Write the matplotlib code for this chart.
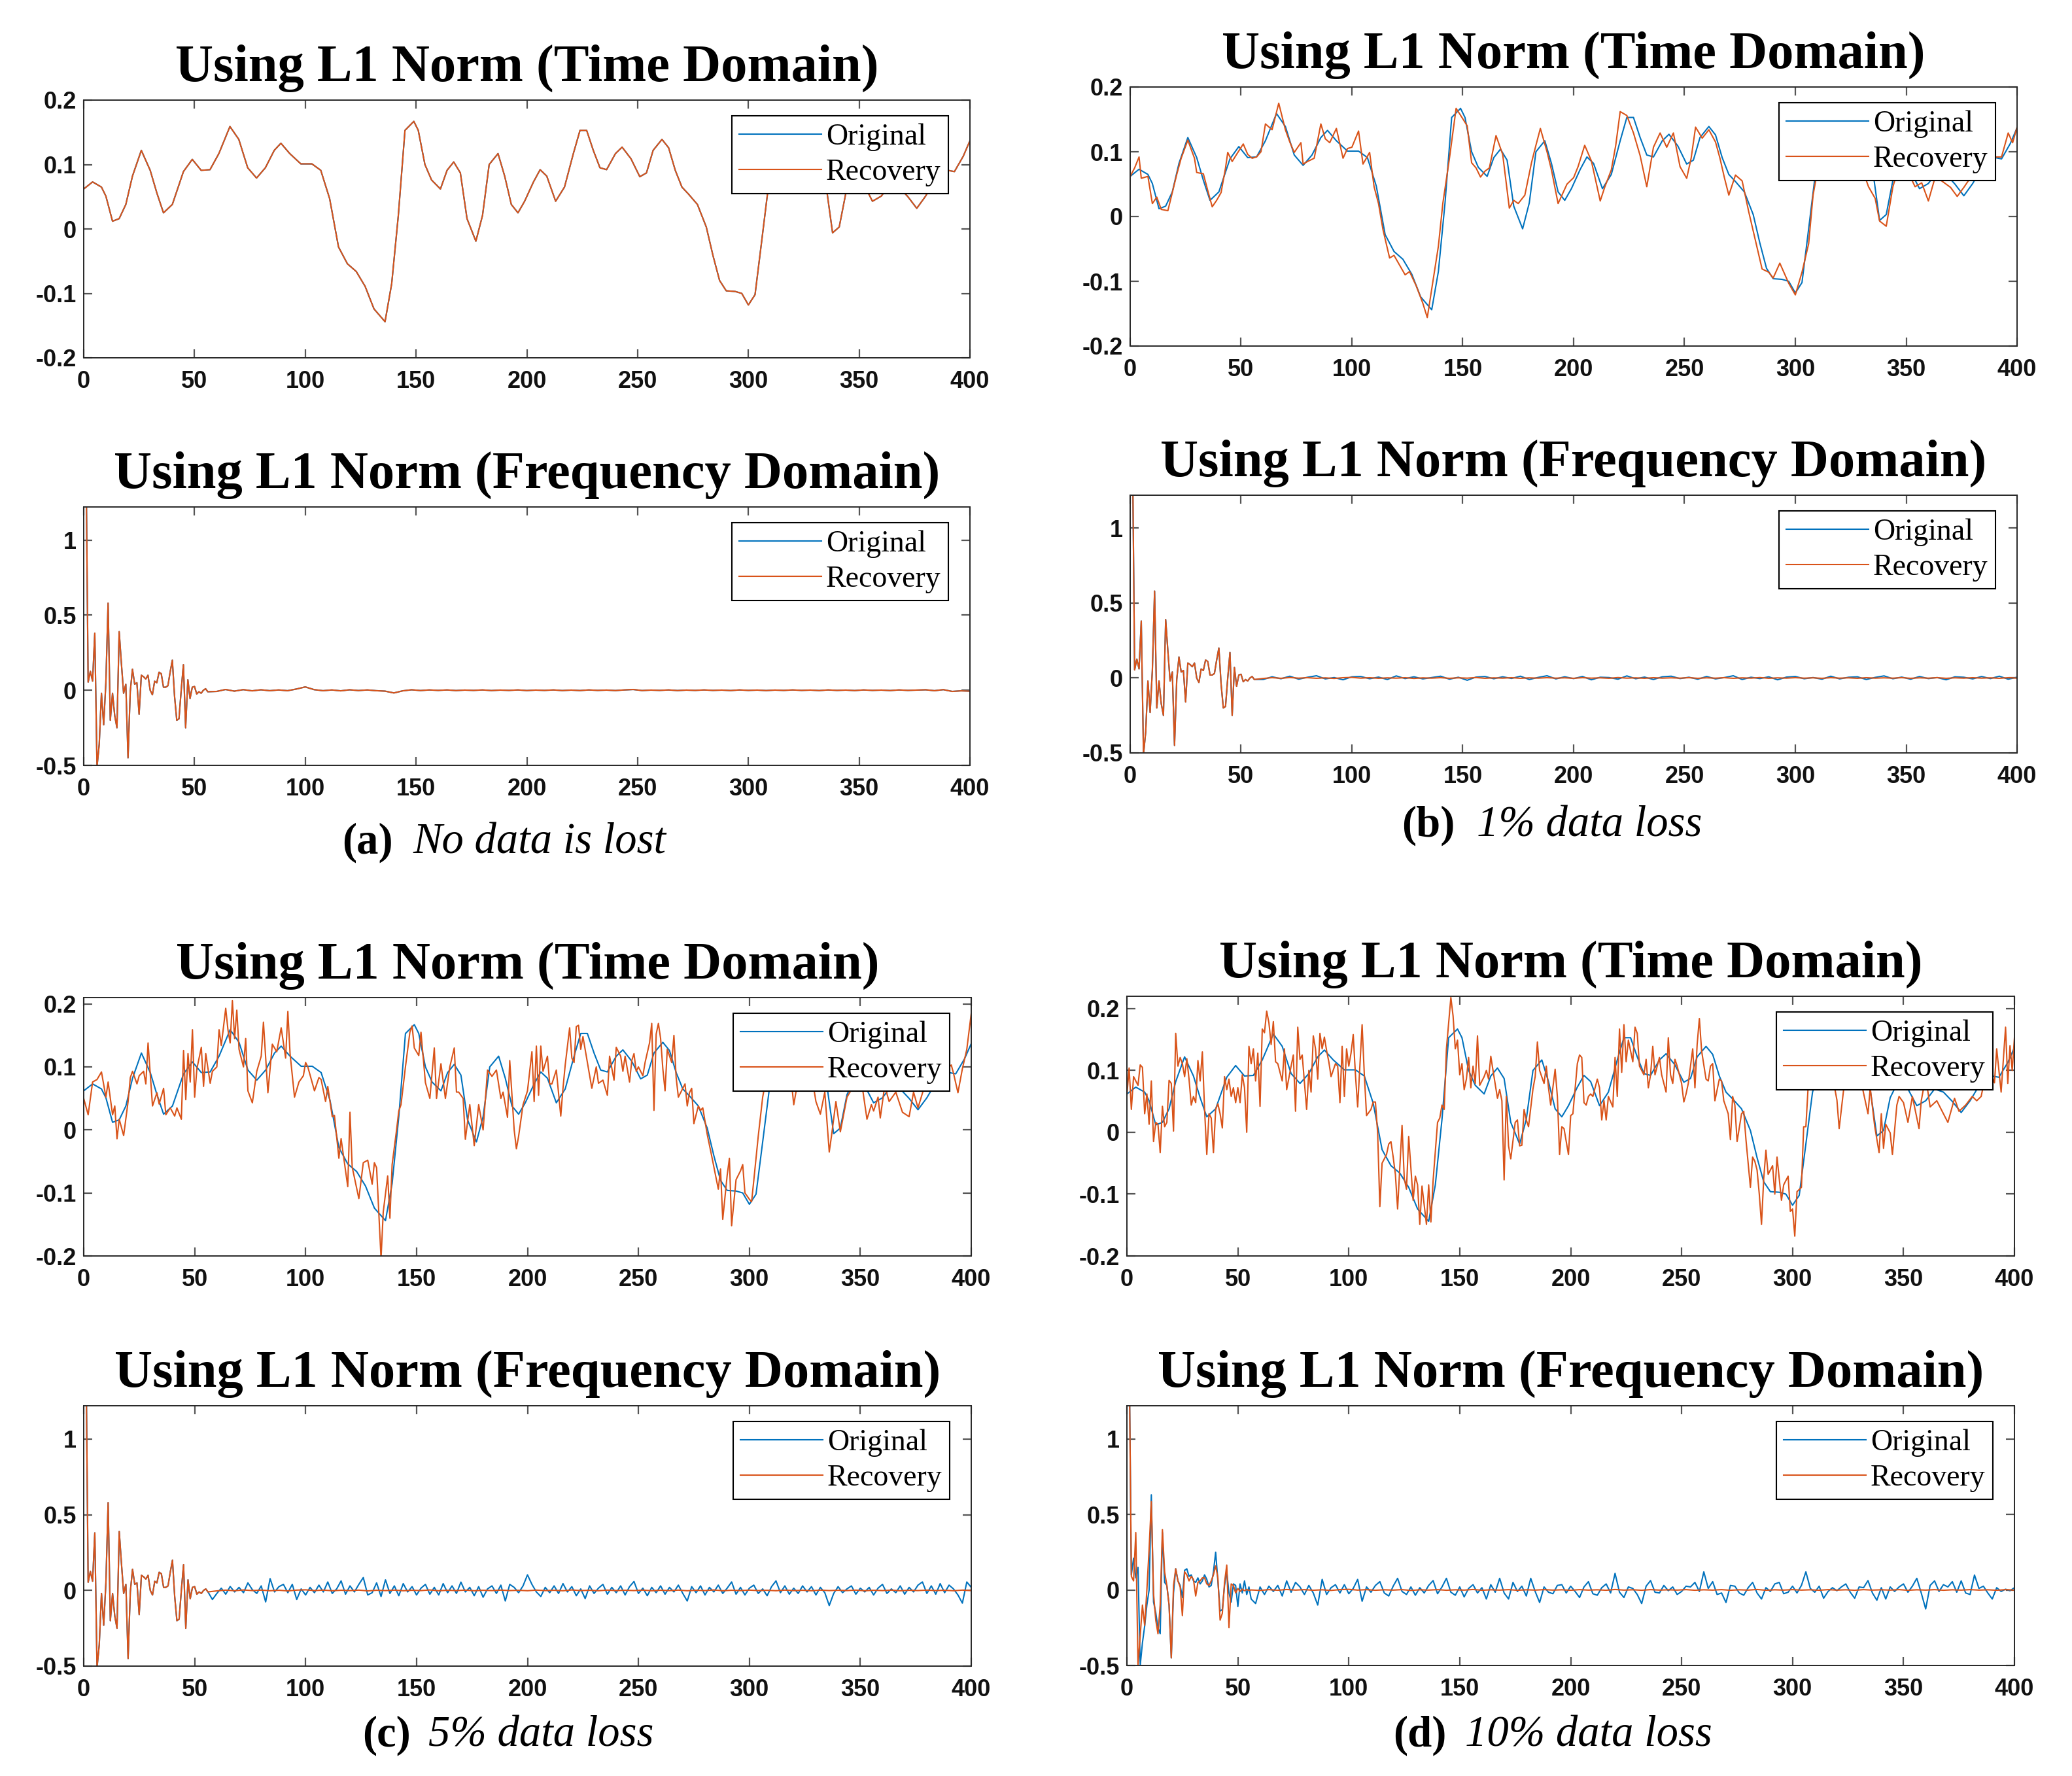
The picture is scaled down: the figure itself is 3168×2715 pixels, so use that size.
import numpy as np
import matplotlib.pyplot as plt

plt.rcParams['font.family'] = 'Liberation Sans'
plt.rcParams['font.weight'] = 'bold'
plt.rcParams['axes.unicode_minus'] = False

BLUE = '#0072BD'
ORANGE = '#D95319'

# time domain, original signal (x, value*1000)
t_orig = [(0, 62), (4, 73), (8, 65), (10, 51), (13, 12), (16, 16), (19, 38), (22, 82), (26, 122), (30, 91),
          (33, 56), (36, 25), (40, 38), (45, 89), (49, 108), (53, 91), (57, 92), (61, 117), (66, 159), (70, 139),
          (74, 95), (78, 79), (82, 95), (86, 122), (89, 133), (93, 117), (98, 101), (103, 101), (107, 91), (111, 47),
          (115, -28), (119, -54), (123, -66), (127, -89), (131, -124), (136, -144), (139, -85), (142, 21), (145, 153),
          (149, 167), (151, 153), (154, 100), (157, 76), (161, 62), (164, 91), (167, 104), (170, 87), (173, 16),
          (177, -19), (180, 21), (183, 100), (187, 117), (190, 82), (193, 38), (196, 25), (199, 43), (203, 73),
          (206, 92), (209, 82), (213, 43), (217, 65), (221, 117), (224, 153), (227, 153), (230, 122), (233, 95),
          (236, 92), (240, 117), (243, 127), (247, 109), (251, 81), (254, 87), (257, 122), (261, 139), (264, 126),
          (267, 91), (270, 65), (273, 54), (277, 38), (281, 3), (284, -41), (287, -80), (290, -96), (294, -97),
          (297, -100), (300, -118), (303, -102), (306, -19), (309, 65), (313, 110), (318, 130), (323, 120),
          (328, 90), (332, 80), (335, 69), (338, -6), (341, 3), (344, 56), (348, 85), (352, 70), (356, 43),
          (360, 51), (364, 70), (368, 65), (372, 50), (376, 32), (380, 51), (384, 75), (387, 90), (390, 91),
          (393, 89), (397, 113), (400, 137)]

# time domain recoveries
rec_b = [(0, 62), (2, 75), (4, 92), (5, 59), (8, 62), (10, 20), (12, 30), (14, 11), (17, 9), (19, 37), (21, 65),
         (23, 90), (26, 118), (29, 90), (30, 68), (33, 66), (35, 40), (37, 15), (39, 25), (41, 37), (43, 75),
         (44, 99), (46, 85), (48, 96), (51, 112), (53, 96), (55, 90), (57, 92), (59, 100), (61, 143), (64, 134),
         (67, 175), (70, 134), (72, 115), (74, 99), (77, 114), (78, 81), (80, 85), (83, 90), (86, 143), (88, 120),
         (90, 114), (93, 136), (96, 90), (98, 105), (100, 107), (103, 132), (105, 81), (108, 99), (110, 46),
         (112, 20), (114, -20), (117, -64), (119, -60), (121, -72), (124, -90), (126, -85), (129, -107),
         (132, -134), (134, -156), (136, -112), (139, -46), (141, 20), (144, 90), (147, 167), (150, 151),
         (152, 140), (154, 83), (156, 75), (158, 61), (160, 70), (162, 75), (165, 125), (168, 96), (171, 13),
         (173, 25), (175, 20), (178, 33), (181, 83), (183, 110), (185, 136), (188, 100), (190, 72), (193, 20),
         (195, 35), (197, 50), (200, 60), (202, 77), (205, 110), (208, 86), (210, 55), (212, 24), (214, 45),
         (217, 72), (219, 110), (221, 162), (224, 156), (227, 129), (230, 94), (233, 46), (236, 107), (239, 129),
         (242, 107), (245, 129), (248, 77), (251, 59), (253, 90), (255, 138), (258, 121), (261, 134), (264, 115),
         (266, 90), (268, 60), (270, 33), (273, 64), (276, 55), (279, 7), (282, -37), (285, -81), (288, -86),
         (290, -95), (293, -72), (297, -103), (300, -121), (303, -86), (306, -42), (308, 33), (311, 90),
         (315, 125), (320, 125), (325, 110), (330, 75), (333, 46), (336, 28), (338, -7), (341, -15), (344, 46),
         (347, 80), (350, 75), (354, 46), (357, 52), (360, 24), (363, 60), (366, 55), (370, 45), (373, 31),
         (376, 45), (378, 55), (382, 75), (386, 85), (390, 92), (393, 92), (396, 129), (398, 114), (400, 138)]

rec_c = [(0, 50), (2, 24), (4, 76), (6, 80), (8, 92), (10, 52), (11, 76), (13, 24), (14, 38), (15, -14), (16, 17),
         (18, -9), (20, 45), (21, 83), (22, 93), (24, 73), (25, 86), (27, 93), (28, 73), (29, 138), (31, 38),
         (33, 59), (34, 41), (36, 66), (37, 24), (39, 35), (41, 22), (42, 35), (44, 17), (45, 126), (46, 48),
         (47, 121), (48, 76), (49, 159), (50, 52), (51, 97), (53, 131), (54, 69), (55, 121), (57, 74), (58, 93),
         (60, 100), (61, 159), (62, 134), (64, 193), (65, 159), (66, 138), (67, 205), (68, 145), (69, 190),
         (70, 128), (72, 100), (73, 145), (74, 62), (76, 43), (78, 93), (80, 117), (81, 171), (83, 59), (85, 136),
         (87, 124), (89, 162), (91, 114), (92, 188), (93, 121), (95, 52), (97, 76), (99, 86), (100, 107),
         (101, 100), (104, 62), (106, 83), (107, 80), (109, 45), (110, 69), (112, 21), (113, 23), (115, -45),
         (116, -14), (119, -90), (120, 28), (121, -59), (124, -109), (126, -52), (128, -48), (130, -86),
         (131, -52), (132, -60), (134, -204), (135, -130), (137, -73), (138, -140), (139, -55), (141, 0),
         (142, 30), (143, 40), (145, 100), (147, 155), (148, 165), (149, 130), (151, 118), (152, 155), (154, 75),
         (156, 50), (158, 130), (159, 50), (161, 105), (163, 50), (165, 100), (167, 130), (168, 60), (169, 60),
         (171, 50), (172, -15), (174, 40), (176, -25), (178, 40), (180, 0), (182, 95), (184, 85), (186, 95),
         (188, 50), (189, 60), (191, 20), (192, 110), (194, 0), (195, -30), (196, -10), (198, 40), (200, 62),
         (202, 124), (203, 45), (204, 133), (205, 55), (206, 133), (207, 93), (209, 117), (210, 73), (211, 73),
         (213, 95), (215, 22), (216, 66), (217, 103), (219, 162), (220, 114), (221, 107), (222, 164), (223, 166),
         (224, 128), (225, 148), (227, 107), (229, 66), (231, 100), (232, 74), (234, 79), (236, 55), (237, 117),
         (239, 79), (240, 131), (242, 117), (243, 93), (244, 117), (246, 76), (247, 110), (248, 121), (249, 93),
         (250, 100), (252, 86), (253, 107), (255, 138), (256, 169), (257, 31), (258, 152), (259, 169), (260, 145),
         (261, 97), (262, 62), (263, 128), (265, 107), (266, 150), (267, 83), (268, 52), (271, 73), (272, 38),
         (273, 59), (274, 66), (275, 10), (277, 38), (278, 31), (279, 35), (281, -7), (283, -41), (286, -94),
         (287, -62), (288, -142), (290, -72), (291, -45), (292, -152), (294, -79), (296, -65), (297, -55),
         (298, -100), (300, -110), (301, -114), (302, -80), (304, -10), (306, 52), (308, 90), (311, 120),
         (315, 140), (318, 110), (320, 40), (323, 100), (327, 110), (330, 45), (332, 25), (334, 60), (336, -35),
         (337, -10), (339, 45), (341, -3), (344, 52), (347, 70), (350, 90), (353, 17), (355, 40), (356, 30),
         (358, 52), (359, 19), (361, 70), (363, 45), (366, 60), (369, 28), (372, 21), (374, 60), (376, 35),
         (379, 70), (383, 80), (387, 90), (391, 103), (392, 90), (394, 59), (396, 97), (398, 128), (400, 185)]

rec_d = [(0, 60), (1, 104), (2, 37), (3, 90), (5, 76), (6, 109), (7, 105), (8, 30), (9, 62), (10, 13), (11, 83),
         (12, -15), (13, 16), (14, 13), (15, -33), (16, 42), (17, 9), (18, 16), (19, 84), (20, 79), (21, 2),
         (22, 160), (23, 107), (24, 121), (25, 111), (26, 90), (27, 119), (28, 86), (29, 44), (30, 58), (31, 48),
         (32, 116), (33, 83), (34, 130), (35, 37), (36, -36), (37, 30), (38, 23), (39, -33), (40, 37), (41, 46),
         (42, 30), (43, 7), (44, 90), (45, 69), (46, 86), (47, 58), (48, 72), (49, 48), (50, 72), (51, 48),
         (52, 93), (53, 72), (54, 0), (55, 139), (56, 111), (57, 135), (58, 83), (59, 128), (60, 42), (61, 167),
         (62, 161), (63, 196), (64, 177), (65, 142), (66, 179), (67, 114), (68, 111), (70, 83), (71, 135),
         (72, 69), (74, 107), (75, 125), (76, 34), (77, 170), (78, 118), (79, 125), (81, 37), (82, 100), (83, 65),
         (84, 156), (85, 135), (86, 86), (87, 160), (88, 135), (89, 154), (90, 132), (91, 114), (92, 90),
         (94, 111), (95, 107), (96, 48), (97, 139), (98, 58), (99, 135), (100, 107), (101, 128), (102, 158),
         (103, 93), (104, 41), (105, 107), (106, 174), (107, 93), (108, 27), (110, 37), (111, 49), (112, 49),
         (113, -1), (114, -120), (115, -50), (117, -36), (118, -19), (119, -15), (120, -40), (121, -68),
         (122, -124), (124, 11), (125, -75), (126, -92), (127, -7), (129, -110), (130, -71), (131, -85),
         (132, -149), (133, -87), (135, -149), (136, -85), (137, -145), (138, -78), (140, 16), (141, 23),
         (142, 44), (143, 37), (144, 135), (145, 177), (146, 218), (147, 188), (148, 135), (149, 149), (150, 93),
         (151, 111), (152, 69), (153, 86), (154, 121), (155, 72), (156, 107), (157, 79), (158, 156), (159, 76),
         (161, 90), (162, 100), (163, 86), (164, 123), (165, 100), (167, 55), (168, 69), (169, 51), (170, -77),
         (171, 58), (172, -22), (173, -43), (175, 16), (176, 20), (177, -22), (178, -21), (179, 37), (180, 20),
         (181, 9), (183, 70), (184, 90), (185, 146), (186, 100), (188, 79), (189, 107), (190, 72), (191, 44),
         (193, 102), (194, 58), (195, -36), (196, 9), (197, 6), (199, -36), (200, 27), (201, 30), (203, 111),
         (204, 125), (205, 121), (206, 48), (207, 44), (208, 58), (209, 62), (210, 58), (212, 86), (213, 72),
         (214, 20), (215, 51), (216, 20), (217, 58), (219, 41), (220, 121), (221, 58), (222, 167), (223, 97),
         (224, 174), (225, 114), (226, 149), (228, 114), (229, 170), (230, 160), (231, 107), (233, 93),
         (234, 118), (235, 72), (236, 93), (237, 139), (238, 93), (240, 121), (241, 93), (243, 65), (244, 153),
         (245, 93), (246, 79), (247, 118), (248, 107), (250, 79), (251, 49), (252, 62), (253, 79), (255, 135),
         (256, 72), (257, 142), (258, 184), (259, 132), (261, 86), (262, 83), (263, 107), (264, 111), (265, 51),
         (267, 86), (268, 83), (269, 51), (271, 30), (272, -12), (273, 58), (274, 44), (275, -15), (277, 30),
         (278, 34), (279, -12), (281, -89), (282, -40), (283, -47), (284, -61), (285, -100), (286, -149),
         (287, -75), (288, -29), (289, -68), (291, -54), (292, -100), (293, -40), (294, -75), (295, -110),
         (296, -85), (298, -71), (299, -128), (300, -124), (301, -168), (302, -96), (304, -89), (305, 9),
         (306, 9), (307, 72), (308, 100), (311, 130), (314, 150), (317, 110), (320, 52), (321, 6), (324, 100),
         (328, 120), (331, 80), (334, 30), (335, 72), (337, 10), (339, -33), (340, 30), (341, -26), (342, 13),
         (344, -1), (345, -36), (347, 44), (348, 58), (350, 48), (352, 16), (354, 58), (357, 6), (358, 51),
         (360, 90), (362, 41), (365, 51), (367, 37), (370, 16), (373, 55), (375, 34), (378, 44), (381, 58),
         (383, 51), (385, 58), (388, 110), (391, 80), (392, 135), (394, 65), (396, 170), (397, 79), (398, 140),
         (399, 100), (400, 153)]

# frequency domain, first 56 coefficients (value*1000)
f_head_a = [1600, 54, 126, 61, 380, -510, -360, -20, -230, 50, 580, -200, -20, -170, -250, 390, 180, -20, 40, -450,
            -10, 140, 40, 50, -160, 100, 90, 75, 100, 0, -30, 60, 50, 120, 110, 20, 20, 30, 120, 200,
            -40, -200, -190, 0, 170, -250, 70, -55, 20, 25, -25, -10, -20, 0, 10, -10]
f_head_d_orig = [1600, 100, 210, 80, 150, -500, -350, -240, -100, 0, 630, -80, -150, -250, -290, 380, 50, 30, -100,
                 -450, -20, 140, 60, 30, -50, 130, 140, 90, 100, 60, 50, 80, 40, 60, 100, 70, 20, 30, 120, 250,
                 60, -140, -130, 30, 120, -20, -80, 40, 30, -110, 40, -20, 60, -30, 20, -60]
f_head_d_rec = [1600, 90, 60, 380, -500, -300, -100, -235, 0, 270, 585, -25, -200, -290, -100, 400, 120, 30, -100,
                -450, 30, 140, 60, 20, -170, 120, 100, 60, 90, 70, -40, 50, 60, 80, 80, 40, 30, 60, 100, 160,
                80, -200, -155, 50, 165, -250, 40, 30, -20, 10, -10, 5, -5, 3, -3, 0]

# frequency domain, remaining coefficients (value*1000), every 4th from 60
f_tail_a = [-8, 5, -6, 4, -4, 3, -3, 2, -3, 8, 22, 4, -3, 2, -4, 3, -2, 2, -3, -6, -18, -4, 3, -2, 2, -1, 2, -2, 1,
            -1, 2, -2, 1, -1, 2, -2, 1, -1, 2, -2, 1, -2, 2, -1, 1, -2, 2, 5, -2, 1, -1, 2, -2, 1, -1, 2, -1, 1,
            -2, 2, -1, 1, -2, 1, -1, 2, -1, 1, -2, 2, -1, 1, -2, 2, -1, 1, -2, 2, -1, 1, 3, -3, 4, -8, -4, -6]
f_tail_b_orig = [-10, 8, -5, 12, -8, 5, 15, -6, 3, -12, 8, 10, -5, 6, -10, 14, -4, 8, -6, 3, 12, -8, 5, -15, 6, 10,
                 -5, 8, -3, 12, -10, 4, 15, -6, 8, -4, 10, -12, 5, 3, -8, 14, -5, 6, -10, 8, 12, -4, 5, -8, 10,
                 -6, 3, 15, -10, 5, -4, 8, -12, 6, 10, -5, 3, -8, 12, -6, 5, 8, -10, 4, 14, -5, 6, -8, 10, -4, 3,
                 -12, 8, 5, -6, 10, -4, 12, -8, 5]
f_tail_rec = [-3, 2, -2, 3, -1, 2, -2, 1, -3, 2, 4, -1, 2, -2, 1, -1, 2, -3, 1, -1, 2, -2, 1, -1, 3, -2, 1, -1, 2,
              -2, 1, -1, 2, -1, 1, -2, 2, -1, 1, -2, 3, -1, 1, -2, 2, -1, 1, -1, 2, -2, 1, -1, 2, -2, 1, -1, 3,
              -2, 1, -1, 2, -1, 1, -2, 2, -1, 1, -2, 2, -1, 1, -1, 2, -2, 1, -1, 2, -2, 1, -1, 2, -1, 1, -2, 2, -1]
# every 2nd from 58
f_tail_c_orig = [-60, -20, 15, -25, 26, -10, 20, -15, 50, 5, -20, 30, -76, 78, -10, 25, 40, -15, 40, -60,
                 10, -30, 20, -15, 35, -10, 56, -20, 10, 63, -25, 30, -10, 40, 85, -30, -15, 50, -40, 70,
                 -20, 30, -35, 45, -10, 25, -30, 15, 40, -25, 20, -30, 45, -15, 30, -20, 55, -10, 20, -35,
                 25, -45, 10, 30, -20, 35, -70, 40, 20, -15, 30, 103, 40, -10, -40, 20, -15, 30, -20, 45,
                 -10, 25, -35, 10, -54, 30, -20, 15, 40, -25, 20, -15, 30, -30, 25, 59, -20, 15, -35, 20,
                 -15, 30, -25, 20, -10, 35, -20, -70, 25, -15, 30, -30, 20, -10, 35, -20, 15, 56, -25, 20,
                 -30, 15, 35, -20, 10, -35, 25, 63, -15, 30, -25, 15, -20, 30, -10, 25, -30, 20, -15, -100,
                 -20, 25, -15, 10, 30, -25, 15, -10, 20, -30, 15, 40, -20, 10, -15, 30, -25, 20, -10, 35,
                 56, -20, 30, -25, 45, -15, 35, 10, -30, -84, 56, 20]
f_tail_d_orig = [-90, 20, -30, 25, -10, 30, -40, 60, -15, 50, 20, -30, 30, -20, -100, 70, -30, 15, 35, -20,
                 35, -25, 10, 70, -75, 20, -15, 30, 55, -20, -40, 25, 77, -10, -30, 20, -35, 15, -20, 30,
                 62, -25, 20, 77, -15, -35, 20, -46, 10, 35, -20, 15, -60, 35, -15, 77, -20, -60, 50, -10,
                 25, -40, 77, -10, -83, 20, -15, -25, 30, 35, -20, 25, -10, -50, 20, 55, -25, -35, 15, 40,
                 -20, 110, -15, -50, 20, 10, -30, -90, 25, 62, -15, -20, 30, -5, 20, -30, -10, 25, 20, 50,
                 -10, 120, 10, 55, -30, -20, -83, 30, 25, -20, -35, 15, 50, -20, -60, 15, -10, 40, 50, -25,
                 -15, 25, -20, 30, 120, 10, -15, 25, -55, -10, 15, -5, 20, 40, -15, -55, 20, 15, 62, -20,
                 -68, 15, -60, 20, -10, 20, 40, -15, 25, 77, -20, -126, 30, 60, -10, 35, 20, 55, -15, 60,
                 -20, -30, 99, 10, 25, -20, -60, 15, -10, 5, -5, 15]

x_ticks = [0, 50, 100, 150, 200, 250, 300, 350, 400]


def pairs(p):
    a = np.array(p, float)
    return a[:, 0], a[:, 1] / 1000


def spectrum(head, tail, start, step):
    x = np.concatenate([np.arange(1, len(head) + 1), start + step * np.arange(len(tail))])
    y = np.concatenate([head, tail]) / 1000
    return x, y


W, H = 3168, 2715
fig = plt.figure(figsize=(W / 100, H / 100), dpi=100)


def box(l, r, t, b):
    return [l / W, 1 - b / H, (r - l) / W, (b - t) / H]


def style(ax, ylim, yticks, ylabels, title):
    ax.set_xlim(0, 400)
    ax.set_ylim(*ylim)
    ax.set_xticks(x_ticks)
    ax.set_yticks(yticks)
    ax.set_yticklabels(ylabels)
    ax.tick_params(direction='in', top=True, right=True, length=9.5, width=1.6, color='#555555',
                   labelsize=26, labelcolor='#111111')
    ax.tick_params(axis='x', pad=14)
    ax.tick_params(axis='y', pad=8)
    for s in ax.spines.values():
        s.set_color('#262626')
        s.set_linewidth(1.4)
    ax.set_title(title, fontfamily='Liberation Serif', fontweight='bold', fontsize=58, pad=21)
    w = ax.get_position().width * W
    h = ax.get_position().height * H
    ax.legend(loc='upper right', bbox_to_anchor=(1 - 33 / w, 1 - 24 / h), borderaxespad=0,
              prop={'family': 'Liberation Serif', 'weight': 'normal', 'size': 33},
              fancybox=False, edgecolor='black', framealpha=1, handlelength=2.75,
              handletextpad=0.15, borderpad=0.25, labelspacing=0.25).get_frame().set_linewidth(1.5)


tx, ty = pairs(t_orig)

panels = [
    dict(tbox=(128, 1483, 153, 547), fbox=(128, 1483, 775, 1170), rec=t_orig, tlim=(-0.2, 0.2),
         fo=spectrum(f_head_a, f_tail_a, 60, 4), fr=spectrum(f_head_a, f_tail_a, 60, 4),
         cap=('(a)', 'No data is lost', 523, 631, 1288)),
    dict(tbox=(1728, 3084, 133, 529), fbox=(1728, 3084, 757, 1151), rec=rec_b, tlim=(-0.2, 0.2),
         fo=spectrum(f_head_a, f_tail_b_orig, 60, 4), fr=spectrum(f_head_a, f_tail_rec, 60, 4),
         cap=('(b)', '1% data loss', 2143, 2258, 1262)),
    dict(tbox=(128, 1485, 1525, 1920), fbox=(128, 1485, 2149, 2547), rec=rec_c, tlim=(-0.2, 0.21),
         fo=spectrum(f_head_a, f_tail_c_orig, 58, 2), fr=spectrum(f_head_a, f_tail_rec, 60, 4),
         cap=('(c)', '5% data loss', 554, 655, 2653)),
    dict(tbox=(1723, 3080, 1523, 1920), fbox=(1723, 3080, 2149, 2546), rec=rec_d, tlim=(-0.2, 0.22),
         fo=spectrum(f_head_d_orig, f_tail_d_orig, 58, 2), fr=spectrum(f_head_d_rec, f_tail_rec, 60, 4),
         cap=('(d)', '10% data loss', 2130, 2240, 2653)),
]

for p in panels:
    ax1 = fig.add_axes(box(*p['tbox']))
    rx, ry = pairs(p['rec'])
    ax1.plot(tx, ty, color=BLUE, lw=1.5, label='Original')
    ax1.plot(rx, ry, color=ORANGE, lw=1.5, label='Recovery')
    style(ax1, p['tlim'], [-0.2, -0.1, 0, 0.1, 0.2], ['-0.2', '-0.1', '0', '0.1', '0.2'],
          'Using L1 Norm (Time Domain)')

    ax2 = fig.add_axes(box(*p['fbox']))
    ax2.plot(*p['fo'], color=BLUE, lw=1.5, label='Original')
    ax2.plot(*p['fr'], color=ORANGE, lw=1.5, label='Recovery')
    style(ax2, (-0.5, 1.22), [-0.5, 0, 0.5, 1], ['-0.5', '0', '0.5', '1'],
          'Using L1 Norm (Frequency Domain)')

    tag, txt, x1, x2, yc = p['cap']
    fig.text(x1 / W, 1 - yc / H, tag, fontfamily='Liberation Serif', fontweight='bold',
             fontsize=48, ha='left', va='center')
    fig.text(x2 / W, 1 - yc / H, txt, fontfamily='Liberation Serif', fontweight='normal',
             fontstyle='italic', fontsize=48, ha='left', va='center')

fig.savefig('out.png', dpi=100, facecolor='white')
